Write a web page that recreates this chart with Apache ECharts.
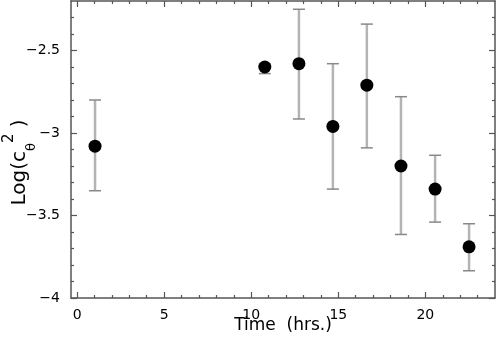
<!DOCTYPE html>
<html>
<head>
<meta charset="utf-8">
<script src="https://cdn.jsdelivr.net/npm/echarts@6/dist/echarts.min.js"></script>
<style>
  html, body { margin: 0; padding: 0; background: #fff; }
  #chart { width: 496px; height: 342px; }
</style>
</head>
<body>
<div id="chart"></div>
<script>
// time of each measurement (hrs.)
const times = [1.03, 10.78, 12.74, 14.69, 16.64, 18.6, 20.56, 22.51];
// Log(c_theta^2) values
const logC = [-3.08, -2.60, -2.58, -2.96, -2.71, -3.20, -3.34, -3.69];
// error bar ends
const errLow = [-3.35, -2.64, -2.915, -3.34, -3.09, -3.615, -3.54, -3.835];
const errHigh = [-2.80, -2.58, -2.25, -2.58, -2.34, -2.78, -3.135, -3.55];

const xMajor = [0, 5, 10, 15, 20];
const yMajor = [-4, -3.5, -3, -2.5];

const xMinor = [];
for (let i = 1; i < 24; i++) if (i % 5 !== 0) xMinor.push(i);
const yMinor = [];
for (let i = -39; i < -22; i++) if (i % 5 !== 0) yMinor.push(i / 10);

const axisColor = "#555";
const font = "DejaVu Sans, sans-serif";

const points = times.map((t, i) => [t, logC[i]]);
const bars = times.map((t, i) => [t, errLow[i], errHigh[i]]);

function xAx(position, ticks, len, main) {
  return {
    type: "value",
    position: position,
    min: -0.35,
    max: 24,
    nameMoveOverlap: false,
    axisLine: { show: main, onZero: false, lineStyle: { color: axisColor, width: 1.5 } },
    axisTick: { show: true, inside: true, length: len, customValues: ticks, lineStyle: { color: axisColor, width: 1.2 } },
    axisLabel: main && position === "bottom"
      ? { show: true, customValues: ticks, margin: 10, color: "#000", fontSize: 14, fontFamily: font }
      : { show: false },
    splitLine: { show: false }
  };
}

function yAx(position, ticks, len, main) {
  return {
    type: "value",
    position: position,
    min: -4,
    max: -2.2,
    nameMoveOverlap: false,
    axisLine: { show: main, onZero: false, lineStyle: { color: axisColor, width: 1.5 } },
    axisTick: { show: true, inside: true, length: len, customValues: ticks, lineStyle: { color: axisColor, width: 1.2 } },
    axisLabel: main && position === "left"
      ? {
          show: true, customValues: ticks, margin: 11, color: "#000", fontSize: 14, fontFamily: font,
          formatter: v => "\u2212" + String(Math.abs(v))
        }
      : { show: false },
    splitLine: { show: false }
  };
}

const xAxes = [xAx("bottom", xMajor, 6, true), xAx("bottom", xMinor, 3, false), xAx("top", xMajor, 6, true), xAx("top", xMinor, 3, false)];
xAxes[0].name = "Time  (hrs.)";
xAxes[0].nameLocation = "middle";
xAxes[0].nameGap = 19;
xAxes[0].nameTextStyle = { color: "#000", fontSize: 17, fontFamily: font };

const yAxes = [yAx("left", yMajor, 6, true), yAx("left", yMinor, 3, false), yAx("right", yMajor, 6, true), yAx("right", yMinor, 3, false)];
yAxes[0].name = "{m|Log(c}{s|θ}{p|2}{m| )}";
yAxes[0].nameLocation = "middle";
yAxes[0].nameRotate = 90;
yAxes[0].nameGap = 33;
yAxes[0].nameTextStyle = {
  color: "#000",
  fontFamily: font,
  padding: [0, 26, 0, 0],
  rich: {
    m: { fontSize: 20, fontFamily: font, color: "#000", lineHeight: 36, verticalAlign: "middle" },
    s: { fontSize: 13, fontFamily: font, color: "#000", verticalAlign: "bottom" },
    p: { fontSize: 15, fontFamily: font, color: "#000", verticalAlign: "top" }
  }
};

const chart = echarts.init(document.getElementById("chart"), null, { renderer: "canvas" });
chart.setOption({
  animation: false,
  backgroundColor: "#fff",
  grid: { left: 71, right: 1, top: 1, bottom: 44, containLabel: false, outerBoundsMode: "none" },
  xAxis: xAxes,
  yAxis: yAxes,
  series: [
    {
      type: "custom",
      xAxisIndex: 0,
      yAxisIndex: 0,
      z: 2,
      data: bars,
      renderItem: function (params, api) {
        const x = api.value(0);
        const lo = api.coord([x, api.value(1)]);
        const hi = api.coord([x, api.value(2)]);
        const hw = 6;
        return {
          type: "group",
          children: [
            { type: "line", shape: { x1: lo[0], y1: lo[1], x2: hi[0], y2: hi[1] }, style: { stroke: "#b4b4b4", lineWidth: 2.5 } },
            { type: "line", shape: { x1: lo[0] - hw, y1: lo[1], x2: lo[0] + hw, y2: lo[1] }, style: { stroke: "#888", lineWidth: 1.5 } },
            { type: "line", shape: { x1: hi[0] - hw, y1: hi[1], x2: hi[0] + hw, y2: hi[1] }, style: { stroke: "#888", lineWidth: 1.5 } }
          ]
        };
      }
    },
    {
      type: "scatter",
      xAxisIndex: 0,
      yAxisIndex: 0,
      z: 3,
      symbol: "circle",
      symbolSize: 13,
      itemStyle: { color: "#000", opacity: 1 },
      data: points
    },
    { type: "line", xAxisIndex: 1, yAxisIndex: 1, data: [] },
    { type: "line", xAxisIndex: 2, yAxisIndex: 2, data: [] },
    { type: "line", xAxisIndex: 3, yAxisIndex: 3, data: [] }
  ]
});
</script>
</body>
</html>
